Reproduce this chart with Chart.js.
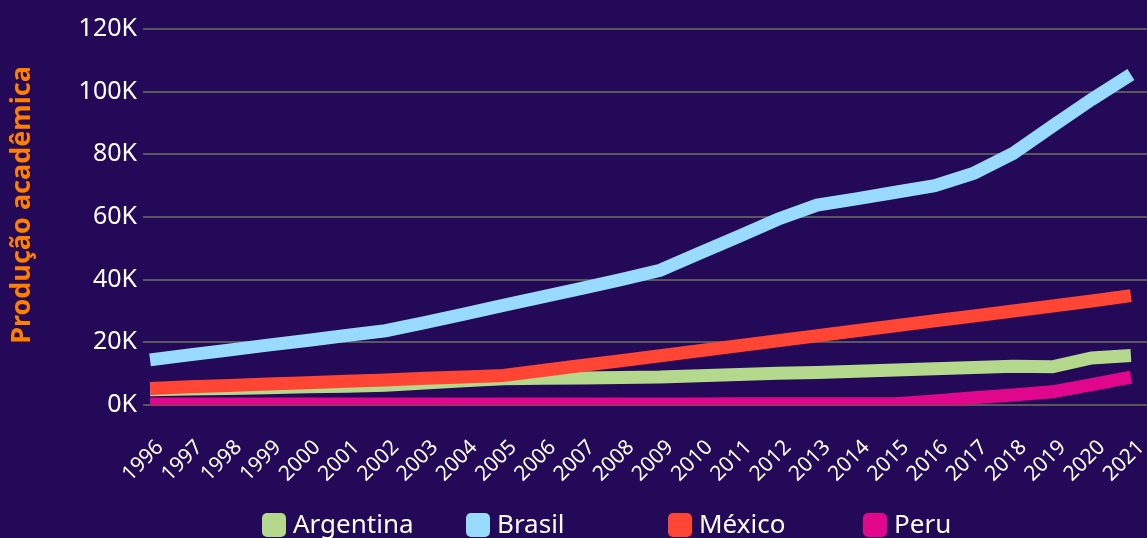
<!DOCTYPE html>
<html lang="pt-BR">
<head>
<meta charset="utf-8">
<title>Produção acadêmica</title>
<script src="https://cdn.jsdelivr.net/npm/chart.js@4.4.1/dist/chart.umd.min.js"></script>
<style>
  html, body { margin: 0; padding: 0; background: #230957; }
  #wrap { position: relative; width: 1147px; height: 538px; }
</style>
</head>
<body>
<div id="wrap"><canvas id="chart"></canvas></div>
<script>
// Anos da série
const years = [1996, 1997, 1998, 1999, 2000, 2001, 2002, 2003, 2004, 2005, 2006, 2007, 2008,
               2009, 2010, 2011, 2012, 2013, 2014, 2015, 2016, 2017, 2018, 2019, 2020, 2021];

// Produção acadêmica por país
const argentina = [4900, 5100, 5300, 5500, 5800, 6000, 6300, 7000, 7700, 8400, 8500, 8600, 8800,
                   8900, 9300, 9700, 10100, 10400, 10800, 11200, 11600, 12000, 12400, 12200, 15000, 15800];
const brasil    = [14400, 16000, 17500, 19100, 20600, 22200, 23700, 26300, 29000, 31800, 34500, 37200, 40000,
                   43000, 48400, 53800, 59300, 63800, 65800, 67900, 70000, 74000, 80300, 89000, 97500, 105500];
const mexico    = [5300, 5800, 6200, 6700, 7100, 7600, 8000, 8500, 8900, 9400, 11000, 12600, 14100,
                   15700, 17300, 18900, 20500, 22100, 23700, 25300, 26900, 28400, 30000, 31600, 33200, 34900];
const peru      = [300, 300, 300, 300, 300, 300, 300, 300, 300, 300, 300, 300, 300,
                   300, 300, 400, 400, 400, 400, 400, 1300, 2300, 3200, 4200, 6500, 8900];

// Marcas do eixo Y
const yTicks = [0, 20000, 40000, 60000, 80000, 100000, 120000];

const seriesNames  = ['Argentina', 'Brasil', 'México', 'Peru'];
const seriesColors = ['#b4d88c', '#98dbff', '#ff4534', '#e0078c'];
const seriesData   = [argentina, brasil, mexico, peru];
// México fica por cima da Argentina onde as linhas se cruzam
const drawOrder    = [2, 1, 0, 3];

const BG = '#230957';
const FONT = "'Noto Sans', 'Open Sans', sans-serif";

const background = {
  id: 'background',
  beforeDraw(chart) {
    const ctx = chart.ctx;
    ctx.save();
    ctx.fillStyle = BG;
    ctx.fillRect(0, 0, chart.width, chart.height);
    ctx.restore();
  }
};

// Legenda em colunas fixas na base do gráfico
const columnLegend = {
  id: 'columnLegend',
  afterDraw(chart) {
    const ctx = chart.ctx;
    const cols = [262, 466, 668, 863];
    const boxTop = 513, box = 24;
    ctx.save();
    ctx.font = '26px ' + FONT;
    ctx.textBaseline = 'alphabetic';
    ctx.textAlign = 'left';
    chart.data.datasets.forEach((ds, i) => {
      const x = cols[i];
      ctx.fillStyle = ds.borderColor;
      ctx.beginPath();
      ctx.roundRect(x, boxTop, box, box, 5);
      ctx.fill();
      ctx.fillStyle = '#ffffff';
      ctx.fillText(ds.label, x + box + 7, 533);
    });
    ctx.restore();
  }
};

const datasets = seriesNames.map((name, i) => ({
  label: name,
  data: years.map((yr, j) => ({ x: yr, y: seriesData[i][j] })),
  borderColor: seriesColors[i],
  backgroundColor: seriesColors[i],
  borderWidth: 13,
  borderCapStyle: 'butt',
  borderJoinStyle: 'miter',
  pointRadius: 0,
  pointHoverRadius: 0,
  tension: 0,
  fill: false,
  order: drawOrder[i]
}));

new Chart(document.getElementById('chart'), {
  type: 'line',
  data: { datasets },
  plugins: [background, columnLegend],
  options: {
    responsive: true,
    maintainAspectRatio: false,
    animation: false,
    layout: { padding: { top: 5, right: 0, bottom: 0, left: 0 } },
    plugins: {
      legend: { display: false },
      tooltip: { enabled: false }
    },
    scales: {
      x: {
        type: 'linear',
        min: 1995.82,
        max: 2021.41,
        afterBuildTicks(scale) { scale.ticks = years.map(v => ({ value: v })); },
        afterFit(scale) {
          scale.height = 133;
          scale.paddingLeft = 0;
          scale.paddingRight = 0;
        },
        grid: { display: false },
        border: { display: false },
        ticks: {
          autoSkip: false,
          minRotation: 45,
          maxRotation: 45,
          color: '#ffffff',
          padding: 22,
          labelOffset: 10,
          font: { family: FONT, size: 21 },
          callback: v => String(v)
        }
      },
      y: {
        min: 0,
        max: 127650,
        afterBuildTicks(scale) { scale.ticks = yTicks.map(v => ({ value: v })); },
        afterFit(scale) {
          scale.width = 143;
          scale.paddingTop = 0;
          scale.paddingBottom = 0;
        },
        grid: { color: '#58575e', lineWidth: 2, tickLength: 0 },
        border: { display: false },
        ticks: {
          color: '#ffffff',
          padding: 6,
          font: { family: FONT, size: 25 },
          callback: v => (v / 1000) + 'K'
        },
        title: {
          display: true,
          text: 'Produção acadêmica',
          color: '#ff8000',
          padding: { top: 6, bottom: 0 },
          font: { family: FONT, size: 27, weight: 'bold' }
        }
      }
    }
  }
});
</script>
</body>
</html>
